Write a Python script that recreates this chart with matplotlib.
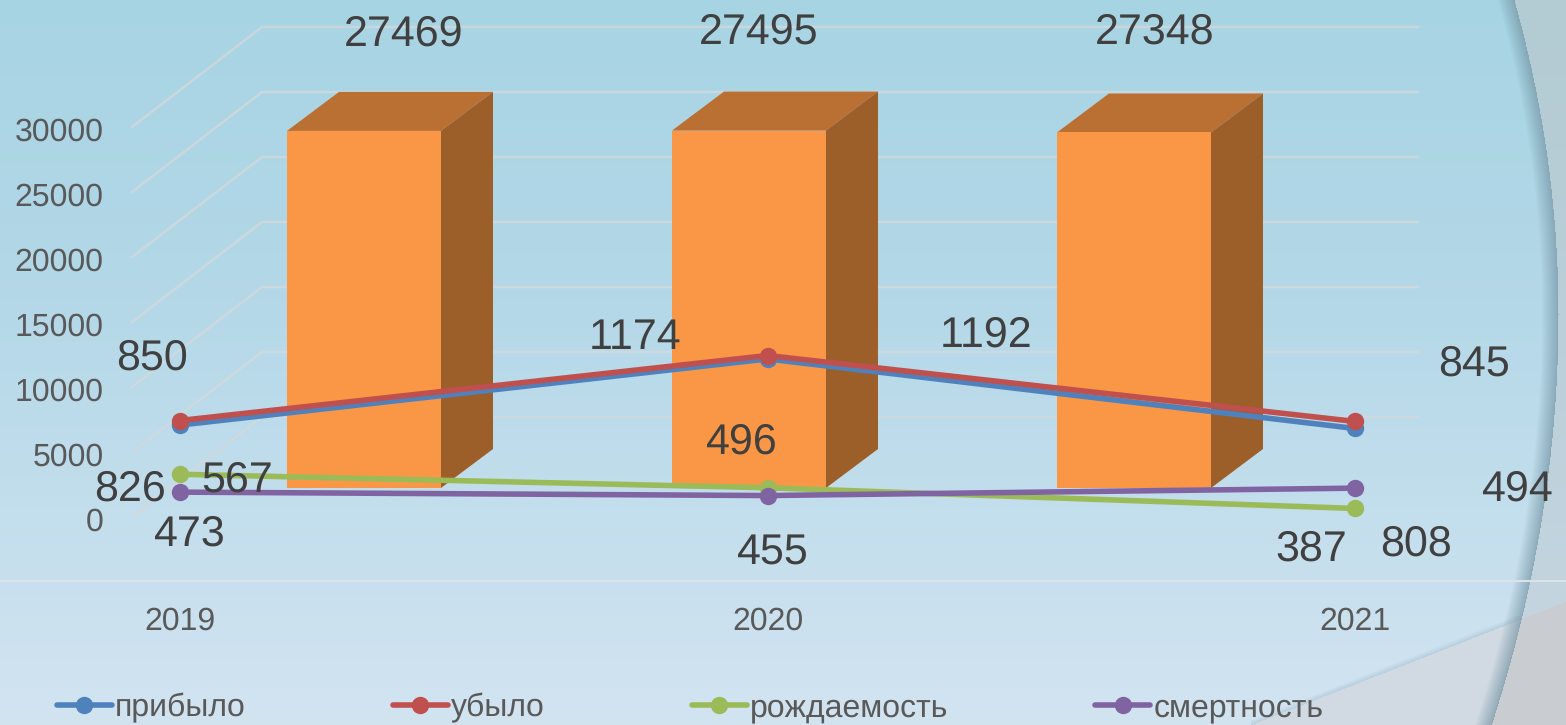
import numpy as np
import matplotlib
matplotlib.use("Agg")
import matplotlib.pyplot as plt
from matplotlib.patches import Polygon

plt.rcParams['font.family'] = ['Liberation Sans', 'DejaVu Sans']
plt.rcParams['text.hinting'] = 'none'
plt.rcParams['text.hinting_factor'] = 1

# ---- data
years = ['2019', '2020', '2021']
total = [27469, 27495, 27348]
arrived = [826, 1174, 808]
left_ = [850, 1192, 845]
births = [567, 496, 387]
deaths = [473, 455, 494]
y_ticks = [0, 5000, 10000, 15000, 20000, 25000, 30000]
names = ['прибыло', 'убыло', 'рождаемость', 'смертность']

W, H = 1566, 725
fig = plt.figure(figsize=(W / 100, H / 100), dpi=100)

# ---- background picture (slide decoration)
def hexc(s):
    return np.array([int(s[i:i + 2], 16) for i in (1, 3, 5)], float) / 255

yy, xx = np.mgrid[0:H, 0:W].astype(float)
stops_y = [0, 300, 580, 725]
inner = [hexc(c) for c in ('#a7d4e3', '#b4d8e8', '#c8e0ee', '#d3e4f1')]
outer = [hexc(c) for c in ('#b3cbd3', '#b9cfd9', '#c3d4df', '#c8d6e0')]
def grad(stops):
    return np.dstack([np.interp(yy, stops_y, [s[k] for s in stops]) for k in range(3)])
img_in = grad(inner)
img_out = grad(outer)
arc = 1557 - np.where(yy < 314, 0.000446, 0.000396) * (yy - 314) ** 2
d = arc - xx
swoosh = 725 - 0.392 * (xx - 1250)
ds = yy - swoosh
low_in = hexc('#d1dae3')
low_out = hexc('#c9cdd2')
mask_sw = (ds > 0) & (xx > 1250)
img = img_in.copy()
img[mask_sw] = low_in
out = img_out.copy()
out[mask_sw] = low_out
# thin shadow along the swoosh
a_s = np.where((ds < 0) & (ds > -6) & (xx > 1250), 0.3 * (1 + ds / 6), 0)[..., None]
img = img * (1 - a_s) + hexc('#7f9fb0') * a_s
img = np.where((d < 0)[..., None], out, img)
a = np.clip(1 - d / 16, 0, 1) * (d >= -1)
a = (0.6 * a ** 0.9)[..., None]
img = img * (1 - a) + hexc('#6d8f9e') * a

bg = fig.add_axes([0, 0, 1, 1], zorder=0)
bg.imshow(img, extent=(0, W, H, 0), aspect='auto', interpolation='bilinear')
bg.plot([0, W], [581, 581], color='#d9e3e8', lw=1.5)
bg.set_xlim(0, W)
bg.set_ylim(H, 0)
bg.axis('off')

# ---- 3D column axes: value 0 of the column plane at pixel 488, 13 px per 1000
PX = 0.013
STEP = 385.0
ax = fig.add_axes([0, 0, 1, 1], zorder=1)
ax.patch.set_alpha(0)
ax.axis('off')
ax.set_xlim(-364 / STEP, (W - 364) / STEP)
ax.set_ylim((488 - H) / PX, 488 / PX)

xpos = np.arange(len(years))
back_dy = 71 / PX      # back wall relative to column plane
front_dy = -29 / PX    # front edge of the side wall
xL0, xL1, xR = -232 / STEP, -102 / STEP, 1054 / STEP
for v in y_ticks:
    ax.plot([xL0, xL1, xR], [v + front_dy, v + back_dy, v + back_dy],
            color='#d2d9dc', lw=1.8, alpha=0.8, zorder=1, solid_joinstyle='miter')

bw = 154 / STEP
dx3, dy3 = 52 / STEP, 39 / PX
ax.bar(xpos, total, width=bw, color='#f99746', edgecolor='none', zorder=4)
for x, v in zip(xpos, total):
    l, r = x - bw / 2, x + bw / 2
    ax.add_patch(Polygon([(l, v), (l + dx3, v + dy3), (r + dx3, v + dy3), (r, v)],
                         closed=True, fc='#bb7033', ec='none', zorder=3))
    ax.add_patch(Polygon([(r, 0), (r + dx3, dy3), (r + dx3, v + dy3), (r, v)],
                         closed=True, fc='#9c5f2a', ec='none', zorder=3))

LAB = dict(fontsize=30.7, color='#404040', ha='center', va='center',
           textcoords='offset pixels', zorder=8)
bar_off = [(40, 96), (10, 98), (21, 100)]
for x, v, o in zip(xpos, total, bar_off):
    ax.annotate(str(v), xy=(x, v), xytext=o, **LAB)

# ---- value axis labels (0 at pixel 519)
axt = fig.add_axes([110 / W, 0, 0.1, 1], zorder=2)
axt.patch.set_alpha(0)
axt.set_ylim((519 - H) / PX, 519 / PX)
axt.set_xticks([])
axt.set_yticks(y_ticks)
axt.tick_params(axis='y', length=0, pad=4.5, labelsize=23, labelcolor='#595959')
for s in axt.spines.values():
    s.set_visible(False)

# ---- line axes: 0 at pixel 582, 0.19 px per unit
LPX = 0.19
LSTEP = 587.5
axl = fig.add_axes([0, (H - 582) / H, 1, 582 / H], zorder=3)
axl.patch.set_alpha(0)
axl.set_xlim(-180 / LSTEP, (W - 180) / LSTEP)
axl.set_ylim(0, 582 / LPX)
for s in axl.spines.values():
    s.set_visible(False)
axl.set_yticks([])
axl.set_xticks(xpos)
axl.set_xticklabels(years)
axl.tick_params(axis='x', length=0, pad=18, labelsize=23, labelcolor='#595959')

series = [arrived, left_, births, deaths]
colors = ['#4f81bd', '#c0504d', '#9bbb59', '#8064a2']
offsets = [
    [(-50, -64), (-132, 21), (61, -116)],
    [(-28, 62), (219, 20), (119, 57)],
    [(57, -6), (-27, 45), (-44, -41)],
    [(9, -42), (4, -58), (162, -1)],
]
for vals, c, n, offs in zip(series, colors, names, offsets):
    axl.plot(xpos, vals, color=c, lw=4, marker='o', ms=11.5, mec=c, label=n,
             solid_capstyle='round', clip_on=False, zorder=5)
    for x, v, o in zip(xpos, vals, offs):
        axl.annotate(str(v), xy=(x, v), xytext=o, **LAB)

leg = fig.legend(*axl.get_legend_handles_labels(), ncol=4, frameon=False,
                 fontsize=23, labelcolor='#595959', handlelength=1.72,
                 handletextpad=0.1, columnspacing=4.6, borderpad=0, borderaxespad=0,
                 loc='lower left', bbox_to_anchor=(57 / W, (H - 723) / H))
leg.set_zorder(9)

fig.savefig('out.png', dpi=100)
